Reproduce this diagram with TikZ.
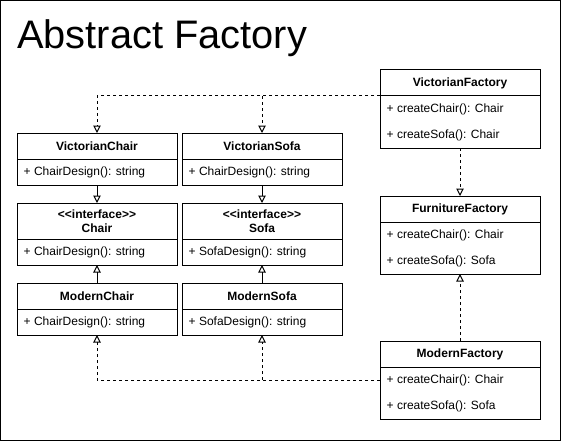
\documentclass[tikz,border=0pt]{standalone}
\usepackage{fontspec}
\setmainfont{Liberation Sans}
\usetikzlibrary{arrows.meta}
\newcommand{\umlbox}[7]{% name, x, y, width, title height, total height, title
  \node[box, minimum width=#4, minimum height=#6] (#1) at (#2,#3) {};
  \draw[divider] (#2,#3+#5) -- ++(#4,0);
  \node[clstitle] (#1-t) at (#2+#4/2,#3+#5/2) {#7};
}
\begin{document}
\begin{tikzpicture}[x=1pt,y=-1pt,
  box/.style={draw, line width=1pt, inner sep=0pt, outer sep=0pt, anchor=north west},
  divider/.style={line width=1pt},
  clstitle/.style={font=\fontsize{12}{14.5}\selectfont\bfseries, align=center, inner sep=0pt},
  row/.style={font=\fontsize{12}{14}\selectfont, anchor=west, inner sep=0pt, text height=8.6pt, text depth=2.4pt},
  tip/.style={-{Triangle[open,length=7.5pt,width=7.5pt]}},
  solidarr/.style={tip, line width=1pt},
  dasharr/.style={tip, line width=1pt, dash pattern=on 3pt off 3pt},
  dashline/.style={line width=1pt, dash pattern=on 3pt off 3pt}]
\useasboundingbox (0,0) rectangle (561,441);
\draw[line width=1pt] (0.5,0.5) rectangle (560.5,440.5);
\node[anchor=base west, inner sep=0pt, font=\fontsize{39.8}{46}\selectfont] (title) at (17,48.5) {Abstract Factory};

\umlbox{vc}{17}{133}{160}{26}{52}{VictorianChair}
\umlbox{vs}{182}{133}{160}{26}{52}{VictorianSofa}
\umlbox{ch}{17}{203}{160}{36}{62}{<\kern0pt<interface>\kern0pt>\\Chair}
\umlbox{sf}{182}{203}{160}{36}{62}{<\kern0pt<interface>\kern0pt>\\Sofa}
\umlbox{mc}{17}{283}{160}{26}{52}{ModernChair}
\umlbox{ms}{182}{283}{160}{26}{52}{ModernSofa}
\umlbox{vf}{380}{70}{160}{26}{78}{VictorianFactory}
\umlbox{ff}{380}{196}{160}{26}{78}{FurnitureFactory}
\umlbox{mf}{380}{341}{160}{26}{78}{ModernFactory}

\node[row] (vc-r1) at (23.5,172.5) {+ ChairDesign(): string};
\node[row] (vs-r1) at (188.5,172.5) {+ ChairDesign(): string};
\node[row] (ch-r1) at (23.5,252.5) {+ ChairDesign(): string};
\node[row] (sf-r1) at (188.5,252.5) {+ SofaDesign(): string};
\node[row] (mc-r1) at (23.5,322.5) {+ ChairDesign(): string};
\node[row] (ms-r1) at (188.5,322.5) {+ SofaDesign(): string};
\node[row] (vf-r1) at (386.5,109.5) {+ createChair(): Chair};
\node[row] (vf-r2) at (386.5,135.5) {+ createSofa(): Chair};
\node[row] (ff-r1) at (386.5,235.5) {+ createChair(): Chair};
\node[row] (ff-r2) at (386.5,261.5) {+ createSofa(): Sofa};
\node[row] (mf-r1) at (386.5,380.5) {+ createChair(): Chair};
\node[row] (mf-r2) at (386.5,406.5) {+ createSofa(): Sofa};

% generalisation
\draw[solidarr] (vc.south) -- (ch.north);
\draw[solidarr] (vs.south) -- (sf.north);
\draw[solidarr] (mc.north) -- (ch.south);
\draw[solidarr] (ms.north) -- (sf.south);
% factory realisation
\draw[dasharr] (vf.south) -- (ff.north);
\draw[dasharr] (mf.north) -- (ff.south);
% victorian products
\coordinate (vfL) at (380,96);
\coordinate (jt) at (vs.north |- vfL);
\draw[dasharr] (vfL) -| (vc.north);
\draw[dasharr] (jt) -- (vs.north);
% modern products
\coordinate (jb) at (ms.south |- mf.west);
\draw[dasharr] (mf.west) -| (mc.south);
\draw[dasharr] (jb) -- (ms.south);
\end{tikzpicture}
\end{document}
